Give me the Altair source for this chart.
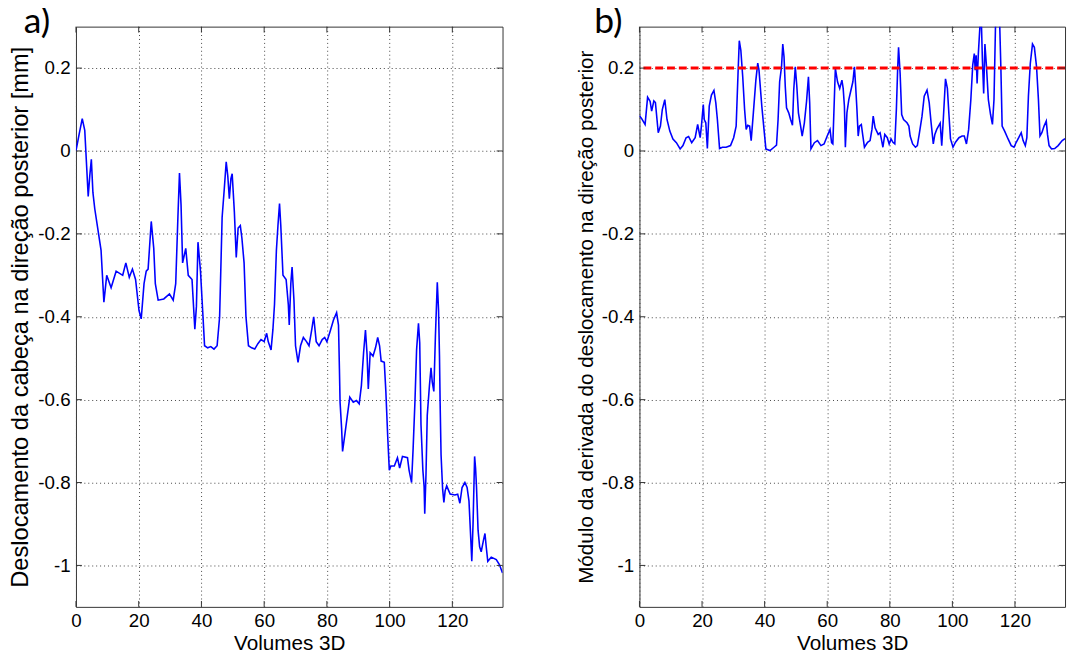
import altair as alt
import pandas as pd

# ---- data ----
a_x = [0, 1.0, 2.0, 2.8, 3.9, 4.4, 4.9, 5.4, 6.0, 7.0, 8.0, 8.9, 9.8, 11.2, 12.8, 14.9, 15.9, 17.0, 18.0, 19.0,
       20.1, 20.8, 21.7, 22.4, 23.0, 24.0, 24.8, 25.3, 26.2, 28.0, 29.8, 31.0, 31.8, 32.5, 33.0, 33.5, 34.0, 35.0,
       35.8, 37.0, 37.9, 38.4, 38.9, 39.7, 40.5, 41.0, 42.0, 43.0, 44.0, 45.0, 45.8, 46.6, 47.3, 47.9, 48.4, 48.9,
       49.4, 49.8, 50.5, 51.1, 51.7, 52.4, 52.9, 53.6, 54.2, 55.0, 56.0, 57.0, 58.0, 59.0, 60.0, 60.8, 61.3, 62.2,
       62.8, 63.3, 63.9, 64.4, 64.9, 65.3, 66.0, 67.0, 67.7, 68.0, 68.5, 68.9, 69.5, 70.0, 70.8, 71.6, 72.5, 73.5,
       74.3, 75.2, 75.8, 76.6, 77.5, 78.5, 79.3, 80.0, 81.0, 82.1, 83.1, 83.7, 84.0, 84.2, 84.7, 85.0, 85.8, 86.5,
       87.3, 88.4, 89.4, 90.3, 91.0, 91.7, 92.3, 92.8, 93.2, 93.8, 94.7, 95.5, 96.2, 96.8, 97.3, 98.3, 98.8, 99.4,
       99.9, 100.4, 101.5, 102.5, 103.2, 104.1, 105.7, 106.2, 107.0, 107.5, 108.1, 108.6, 109.2, 109.6, 110.0,
       110.6, 111.0, 111.2, 111.6, 112.0, 112.7, 113.2, 113.6, 114.1, 114.6, 115.2, 115.6, 115.9, 116.1, 116.4,
       116.9, 117.3, 117.7, 118.2, 119.3, 120.8, 121.7, 122.4, 123.1, 124.0, 124.7, 125.3, 125.9, 126.2, 126.6,
       127.1, 127.4, 127.7, 128.2, 128.7, 129.2, 129.9, 130.4, 130.8, 131.3, 132.4, 134.0, 135.0, 136.0]
a_y = [0.0, 0.04, 0.078, 0.05, -0.11, -0.06, -0.02, -0.10, -0.14, -0.19, -0.24, -0.365, -0.30, -0.33, -0.29,
       -0.30, -0.27, -0.305, -0.285, -0.31, -0.385, -0.405, -0.32, -0.29, -0.285, -0.17, -0.235, -0.32, -0.36,
       -0.357, -0.345, -0.36, -0.32, -0.16, -0.053, -0.13, -0.27, -0.235, -0.30, -0.31, -0.43, -0.375, -0.22,
       -0.29, -0.40, -0.47, -0.475, -0.472, -0.478, -0.47, -0.40, -0.16, -0.09, -0.026, -0.06, -0.115, -0.067,
       -0.055, -0.147, -0.257, -0.186, -0.18, -0.21, -0.27, -0.40, -0.47, -0.475, -0.478, -0.465, -0.455, -0.46,
       -0.44, -0.46, -0.48, -0.43, -0.37, -0.24, -0.18, -0.127, -0.18, -0.30, -0.31, -0.37, -0.42, -0.32, -0.28,
       -0.36, -0.47, -0.51, -0.47, -0.45, -0.46, -0.47, -0.43, -0.40, -0.46, -0.47, -0.455, -0.45, -0.46, -0.436,
       -0.408, -0.39, -0.42, -0.527, -0.606, -0.67, -0.725, -0.68, -0.64, -0.594, -0.606, -0.602, -0.61, -0.566,
       -0.487, -0.432, -0.49, -0.574, -0.487, -0.495, -0.475, -0.45, -0.47, -0.507, -0.51, -0.58, -0.69, -0.77,
       -0.76, -0.76, -0.74, -0.765, -0.737, -0.74, -0.77, -0.80, -0.717, -0.60, -0.48, -0.416, -0.463, -0.66,
       -0.77, -0.81, -0.875, -0.78, -0.638, -0.566, -0.523, -0.558, -0.58, -0.447, -0.317, -0.384, -0.495, -0.606,
       -0.733, -0.816, -0.848, -0.82, -0.808, -0.828, -0.83, -0.828, -0.85, -0.812, -0.80, -0.812, -0.844, -0.94,
       -0.99, -0.90, -0.737, -0.765, -0.81, -0.915, -0.955, -0.967, -0.94, -0.923, -0.955, -0.99, -0.98, -0.986,
       -0.998, -1.018]

b_x = [0, 0.7, 1.8, 2.6, 3.4, 3.9, 4.6, 5.1, 6.0, 6.7, 7.3, 8.1, 8.8, 9.7, 10.7, 11.8, 13.0, 13.9, 14.9, 15.7,
       16.7, 17.8, 18.6, 19.1, 19.4, 19.8, 20.4, 20.7, 21.2, 21.7, 22.3, 23.0, 23.8, 24.4, 24.9, 25.6, 26.5, 27.7,
       29.1, 30.1, 30.9, 31.5, 31.9, 32.4, 33.0, 33.6, 34.1, 34.6, 35.2, 35.7, 36.4, 37.2, 37.8, 38.2, 39.1, 39.8,
       40.4, 41.7, 43.0, 43.8, 44.3, 44.8, 45.4, 45.8, 46.2, 46.6, 47.0, 47.7, 48.3, 48.9, 49.3, 49.8, 50.3, 50.8,
       51.5, 52.0, 52.7, 53.4, 54.0, 54.4, 54.8, 55.9, 56.9, 58.0, 59.0, 60.0, 60.9, 61.4, 61.8, 62.6, 63.3, 64.0,
       64.7, 65.1, 65.5, 65.8, 66.3, 66.9, 67.6, 68.2, 68.7, 69.1, 69.5, 69.9, 70.3, 70.9, 71.4, 71.9, 72.9, 73.7,
       74.3, 74.7, 75.3, 75.8, 76.3, 76.9, 77.4, 77.8, 78.4, 79.2, 79.8, 80.4, 81.0, 81.6, 82.1, 82.5, 82.8, 83.3,
       83.8, 84.4, 85.5, 86.1, 86.5, 87.3, 88.2, 88.8, 89.4, 90.3, 91.0, 91.9, 92.6, 93.2, 93.9, 94.4, 95.0, 96.1,
       96.6, 97.1, 97.8, 98.4, 98.9, 99.4, 100.2, 101.0, 102.1, 103.1, 103.8, 104.5, 105.2, 105.9, 106.5, 107.0,
       107.3, 107.6, 107.9, 108.3, 108.8, 109.2, 109.6, 110.0, 110.4, 110.9, 111.5, 112.2, 112.8, 113.3, 113.8,
       114.4, 115.0, 115.5, 115.9, 116.7, 117.8, 118.8, 119.7, 120.4, 121.2, 122.0, 122.6, 123.3, 123.8, 124.3,
       124.9, 125.6, 126.2, 126.9, 127.5, 128.0, 128.6, 129.3, 130.0, 130.4, 130.9, 131.7, 132.7, 133.8, 135.1,
       136.0]
b_y = [0.085, 0.078, 0.064, 0.13, 0.12, 0.096, 0.121, 0.117, 0.044, 0.06, 0.10, 0.124, 0.076, 0.048, 0.029,
       0.02, 0.005, 0.013, 0.032, 0.035, 0.02, 0.032, 0.064, 0.044, 0.032, 0.06, 0.112, 0.076, 0.068, 0.006,
       0.108, 0.135, 0.146, 0.116, 0.076, 0.006, 0.009, 0.009, 0.013, 0.032, 0.06, 0.187, 0.266, 0.243, 0.179,
       0.10, 0.052, 0.062, 0.06, 0.025, 0.092, 0.171, 0.212, 0.195, 0.108, 0.052, 0.005, 0.001, 0.009, 0.014,
       0.076, 0.167, 0.203, 0.258, 0.227, 0.155, 0.104, 0.092, 0.076, 0.062, 0.147, 0.203, 0.155, 0.092, 0.06,
       0.036, 0.068, 0.12, 0.179, 0.116, 0.005, 0.02, 0.025, 0.013, 0.017, 0.036, 0.052, 0.02, 0.017, 0.199,
       0.167, 0.151, 0.171, 0.151, 0.108, 0.009, 0.092, 0.124, 0.147, 0.167, 0.203, 0.155, 0.10, 0.036, 0.06,
       0.064, 0.036, 0.009, 0.021, 0.025, 0.052, 0.084, 0.056, 0.048, 0.04, 0.044, 0.025, 0.009, 0.04, 0.032,
       0.017, 0.029, 0.021, 0.017, 0.10, 0.195, 0.25, 0.187, 0.088, 0.076, 0.068, 0.06, 0.036, 0.017, 0.009,
       0.013, 0.04, 0.084, 0.132, 0.147, 0.116, 0.068, 0.017, 0.04, 0.052, 0.067, 0.013, 0.076, 0.174, 0.151,
       0.088, 0.029, 0.009, 0.021, 0.032, 0.036, 0.036, 0.017, 0.052, 0.124, 0.207, 0.235, 0.195, 0.231, 0.163,
       0.235, 0.30, 0.33, 0.219, 0.139, 0.258, 0.203, 0.124, 0.088, 0.064, 0.124, 0.31, 0.36, 0.34, 0.20, 0.06,
       0.048, 0.029, 0.013, 0.009, 0.021, 0.032, 0.044, 0.025, 0.013, 0.032, 0.132, 0.211, 0.258, 0.25, 0.203,
       0.124, 0.036, 0.044, 0.06, 0.072, 0.04, 0.013, 0.005, 0.006, 0.013, 0.025, 0.03]

threshold = [0.2]
x_ticks = [0, 20, 40, 60, 80, 100, 120]
y_ticks = [-1.0, -0.8, -0.6, -0.4, -0.2, 0.0, 0.2]
x_domain = [0, 136]
y_domain = [-1.1, 0.3]

title_a = "Deslocamento da cabeça na direção posterior [mm]"
title_b = "Módulo da derivada do deslocamento na direção posterior"
x_title = "Volumes 3D"

FONT = "Liberation Sans"
LABEL_EXPR = ("datum.value == 0 ? '0' : (datum.value < 0 ? '-' + format(-datum.value, '.1~f') "
              ": format(datum.value, '.1~f'))")
W_A, W_B, H = 433, 432, 589
TICK = 6

df_a = pd.DataFrame({"v": a_x, "val": a_y})
df_b = pd.DataFrame({"v": b_x, "val": b_y})
df_t = pd.DataFrame({"val": threshold})
df_xt = pd.DataFrame({"v": x_ticks})
df_yt = pd.DataFrame({"val": y_ticks})

xs = alt.Scale(domain=x_domain, nice=False, zero=False)
ys = alt.Scale(domain=y_domain, nice=False, zero=False)


def x_axis():
    return alt.Axis(values=x_ticks, title=x_title, format="d", grid=True, ticks=False, domain=False,
                    labelFontSize=19, titleFontSize=21, labelPadding=5, titlePadding=2,
                    gridDash=[1, 3], gridColor="#444", gridWidth=1, labelFont=FONT, titleFont=FONT,
                    titleFontWeight="normal", labelColor="black", titleColor="black",
                    labelFlush=False, labelOverlap=False)


def y_axis(title, size):
    return alt.Axis(values=y_ticks, title=title, labelExpr=LABEL_EXPR, grid=True, ticks=False, domain=False,
                    labelFontSize=19, titleFontSize=size, labelPadding=6, titlePadding=4,
                    minExtent=40, maxExtent=40,
                    gridDash=[1, 3], gridColor="#444", gridWidth=1, labelFont=FONT, titleFont=FONT,
                    titleFontWeight="normal", labelColor="black", titleColor="black",
                    labelFlush=False, labelOverlap=False)


def letter(t, dx):
    return alt.TitleParams(text=t, anchor="start", frame="group", dx=dx, offset=-15, fontSize=36,
                           font="Lato", fontWeight="normal", color="black")


def inner_ticks(width):
    """Short MATLAB-style ticks pointing inward on all four sides, placed through the scales."""
    tx = alt.Chart(df_xt)
    ty = alt.Chart(df_yt)
    style = dict(color="#333", strokeWidth=1)
    return [
        tx.mark_rule(**style).encode(x=alt.X("v:Q", scale=xs), y=alt.value(0), y2=alt.value(TICK)),
        tx.mark_rule(**style).encode(x=alt.X("v:Q", scale=xs), y=alt.value(H - TICK), y2=alt.value(H)),
        ty.mark_rule(**style).encode(y=alt.Y("val:Q", scale=ys), x=alt.value(0), x2=alt.value(TICK)),
        ty.mark_rule(**style).encode(y=alt.Y("val:Q", scale=ys), x=alt.value(width - TICK), x2=alt.value(width)),
    ]


line_a = alt.Chart(df_a).mark_line(color="#0000ff", strokeWidth=1.6, clip=True).encode(
    x=alt.X("v:Q", scale=xs, axis=x_axis()),
    y=alt.Y("val:Q", scale=ys, axis=y_axis(title_a, 24)),
)
left = alt.layer(line_a, *inner_ticks(W_A)).properties(width=W_A, height=H, title=letter("a)", -53))

line_b = alt.Chart(df_b).mark_line(color="#0000ff", strokeWidth=1.6, clip=True).encode(
    x=alt.X("v:Q", scale=xs, axis=x_axis()),
    y=alt.Y("val:Q", scale=ys, axis=y_axis(title_b, 21)),
)
rule_b = alt.Chart(df_t).mark_rule(color="#ff0000", strokeDash=[8, 4], strokeWidth=3).encode(
    y=alt.Y("val:Q", scale=ys),
)
right = alt.layer(line_b, rule_b, *inner_ticks(W_B)).properties(width=W_B, height=H, title=letter("b)", -46))

chart = alt.hconcat(left, right, spacing=72).properties(
    padding={"left": 0, "top": -9, "right": 0, "bottom": 0}
).configure_view(stroke="#333", strokeWidth=1)

chart.save("out.html", embed_options={"renderer": "svg", "actions": False})
